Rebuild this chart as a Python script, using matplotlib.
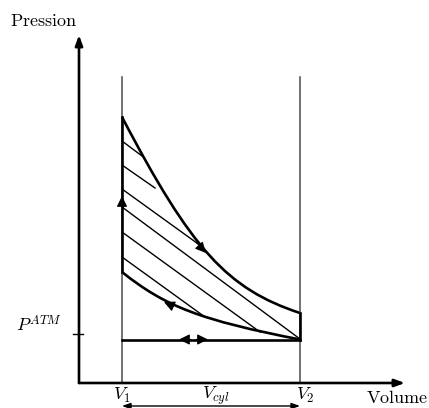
import matplotlib
matplotlib.use("Agg")
import matplotlib.pyplot as plt
from matplotlib.path import Path
from matplotlib.patches import PathPatch, FancyArrowPatch

plt.rcParams['mathtext.fontset'] = 'cm'

# ---- data (volume, pressure) in drawing units ----
V1 = 43
V2 = 221
P_ATM = 49
P_LOW = 43.5          # admission / exhaust line
P_TOP = 266           # top of expansion at V1
P_EXP_END = 70        # end of expansion at V2
P_COMP_END = 111      # end of compression at V1
V_LINE_TOP = 306
AXIS_X_END = 326
AXIS_Y_END = 348

# expansion curve (Bezier control points)
exp_ctrl_V = [43, 112.6, 148.2, 221]
exp_ctrl_P = [266, 133.2, 94, 70]
# compression curve (Bezier control points, from V2 to V1)
comp_ctrl_V = [221, 121.8, 86.2, 43]
comp_ctrl_P = [43.5, 62.8, 76.4, 111]

# hatch lines: start at V1, end on the cycle boundary
hatch_start_P = [242, 218, 194, 176, 151, 126]
hatch_end_V = [63, 76, 122, 221, 181, 126]
hatch_end_P = [227, 195, 137, 44, 51, 66]

# direction arrows (from, to)
arrows = [
    ((117, 141), (127, 130)),     # expansion arrow
    ((94, 77), (85, 81)),         # compression arrow
    ((43, 176), (43, 187)),       # up arrow on V1
    ((112, 43.5), (100, 43.5)),   # left arrow on bottom line
    ((117, 43.5), (129, 43.5)),   # right arrow on bottom line
]

fig = plt.figure(figsize=(4.29, 4.08), dpi=100)
ax = fig.add_axes([0, 0, 1, 1])
ax.set_xlim(-79, 350)
ax.set_ylim(-25, 383)
ax.axis('off')

lw_thick = 1.9
lw_thin = 1.0

# axes with arrows
ax.annotate('', xy=(0, AXIS_Y_END), xytext=(0, 0),
            arrowprops=dict(arrowstyle='-|>,head_length=0.6,head_width=0.22',
                            lw=lw_thick, color='black', shrinkA=0, shrinkB=0))
ax.annotate('', xy=(AXIS_X_END, 0), xytext=(0, 0),
            arrowprops=dict(arrowstyle='-|>,head_length=0.6,head_width=0.22',
                            lw=lw_thick, color='black', shrinkA=0, shrinkB=0))

# P_ATM tick
ax.plot([-6, 4], [P_ATM, P_ATM], color='black', lw=1.0)

# V1 / V2 guide lines
for v in (V1, V2):
    ax.plot([v, v], [0, V_LINE_TOP], color='#4a4a4a', lw=1.1)

# hatch lines
for ps, ve, pe in zip(hatch_start_P, hatch_end_V, hatch_end_P):
    ax.plot([V1, ve], [ps, pe], color='black', lw=lw_thin)

# expansion curve
path = Path(list(zip(exp_ctrl_V, exp_ctrl_P)),
            [Path.MOVETO, Path.CURVE4, Path.CURVE4, Path.CURVE4])
ax.add_patch(PathPatch(path, fill=False, lw=lw_thick, color='black'))
# compression curve
path = Path(list(zip(comp_ctrl_V, comp_ctrl_P)),
            [Path.MOVETO, Path.CURVE4, Path.CURVE4, Path.CURVE4])
ax.add_patch(PathPatch(path, fill=False, lw=lw_thick, color='black'))

# vertical segments and bottom line
ax.plot([V2, V2], [P_EXP_END, P_LOW], color='black', lw=lw_thick)
ax.plot([V1, V1], [P_COMP_END, P_TOP], color='black', lw=lw_thick)
ax.plot([V1, V2], [P_LOW, P_LOW], color='black', lw=lw_thick)

# direction arrows
for a, b in arrows:
    ax.add_patch(FancyArrowPatch(a, b, arrowstyle='-|>,head_length=6.5,head_width=3.2',
                                 color='black', lw=0.8, shrinkA=0, shrinkB=0,
                                 mutation_scale=1))

# V_cyl double arrow
ax.annotate('', xy=(V1, -23), xytext=(V2, -23),
            arrowprops=dict(arrowstyle='<|-|>,head_length=0.5,head_width=0.18',
                            lw=1.0, color='black', shrinkA=0, shrinkB=0))

fs = 13
ax.text(-35, 362, r'$\mathrm{Pression}$', fontsize=fs, ha='center', va='center')
ax.text(-40, 58, r'$P^{ATM}$', fontsize=fs, ha='center', va='center')
ax.text(V1, -12, r'$V_1$', fontsize=fs, ha='center', va='center')
ax.text(V2 + 5, -12, r'$V_2$', fontsize=fs, ha='center', va='center')
ax.text(137, -13, r'$V_{cyl}$', fontsize=fs, ha='center', va='center')
ax.text(318, -15, r'$\mathrm{Volume}$', fontsize=fs, ha='center', va='center')

fig.savefig('out.png', dpi=100)
